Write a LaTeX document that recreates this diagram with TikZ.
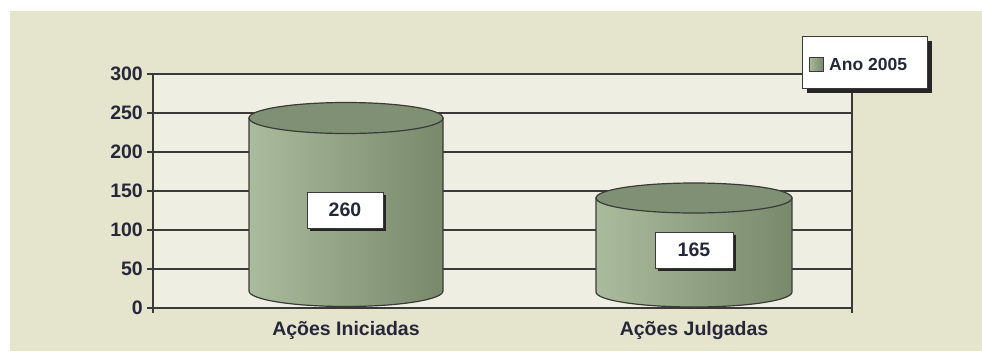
\documentclass[tikz,border=0pt]{standalone}
\usepackage{fontspec}
\setmainfont{Liberation Sans}
\definecolor{pagebg}{HTML}{E5E4CD}
\definecolor{plotbg}{HTML}{EEEEE3}
\definecolor{gridc}{HTML}{3A3A38}
\definecolor{txt}{HTML}{26283A}
\definecolor{cylL}{HTML}{AABC9C}
\definecolor{cylR}{HTML}{78896C}
\definecolor{cylT}{HTML}{7F9074}
\begin{document}
\begin{tikzpicture}[x=1pt,y=-1pt,
  gridline/.style={draw=gridc,line width=1.7pt},
  axlab/.style={font=\fontsize{19.5}{19.5}\selectfont\bfseries,text=txt,anchor=east,inner sep=0pt},
  catlab/.style={font=\fontsize{19.5}{19.5}\selectfont\bfseries,text=txt,anchor=center,inner sep=0pt},
  valbox/.style={draw=gridc,line width=0.6pt,fill=white,font=\fontsize{19.5}{19.5}\selectfont\bfseries,text=txt,minimum width=76pt,minimum height=36pt,inner sep=0pt},
  shad/.style={fill=black!85},
  cylbody/.style={left color=cylL,right color=cylR,draw=gridc,line width=1.2pt},
  cyltop/.style={fill=cylT,draw=gridc,line width=1.2pt}]
\useasboundingbox (0,0) rectangle (982,351);
\fill[white] (0,0) rectangle (982,351);
\fill[pagebg] (10,11) rectangle (982,351);
% plot area
\fill[plotbg] (153,74) rectangle (852,308);
\foreach \v/\y in {300/74,250/113,200/152,150/191,100/230,50/269,0/308}{
  \draw[gridline] (147,\y) -- (852,\y);
  \node[axlab] (y\v) at (143,\y) {\v};
}
\draw[gridline] (153,74) -- (153,313);
\draw[gridline] (852,74) -- (852,313);
% cylinder 1
\path[cylbody] (249,118) -- (249,291) arc[start angle=180,end angle=360,x radius=97,y radius=-15.5] -- (443,118) -- cycle;
\draw[cyltop] (346,118) ellipse[x radius=97,y radius=15.5];
% cylinder 2
\path[cylbody] (596,198) -- (596,292) arc[start angle=180,end angle=360,x radius=98,y radius=-15] -- (792,198) -- cycle;
\draw[cyltop] (694,198) ellipse[x radius=98,y radius=15];
% value boxes
\fill[shad] (310,195) rectangle (386,231);
\node[valbox] (v1) at (345,210) {260};
\fill[shad] (658,235) rectangle (736,271);
\node[valbox,minimum width=78pt] (v2) at (694,250) {165};
% categories
\node[catlab] (c1) at (346,330) {Ações Iniciadas};
\node[catlab] (c2) at (694,330) {Ações Julgadas};
% legend
\fill[shad] (807,41) rectangle (932,93);
\node[draw=gridc,line width=0.8pt,fill=white,minimum width=125pt,minimum height=52pt,inner sep=0pt] (leg) at (864.5,62) {};
\node[draw=gridc,line width=0.6pt,left color=cylL,right color=cylR,minimum size=14pt,inner sep=0pt] (legsq) at (816,64.5) {};
\node[font=\fontsize{17.5}{17.5}\selectfont\bfseries,text=txt,anchor=west,inner sep=0pt] (legt) at (829,64) {Ano 2005};
\end{tikzpicture}
\end{document}
